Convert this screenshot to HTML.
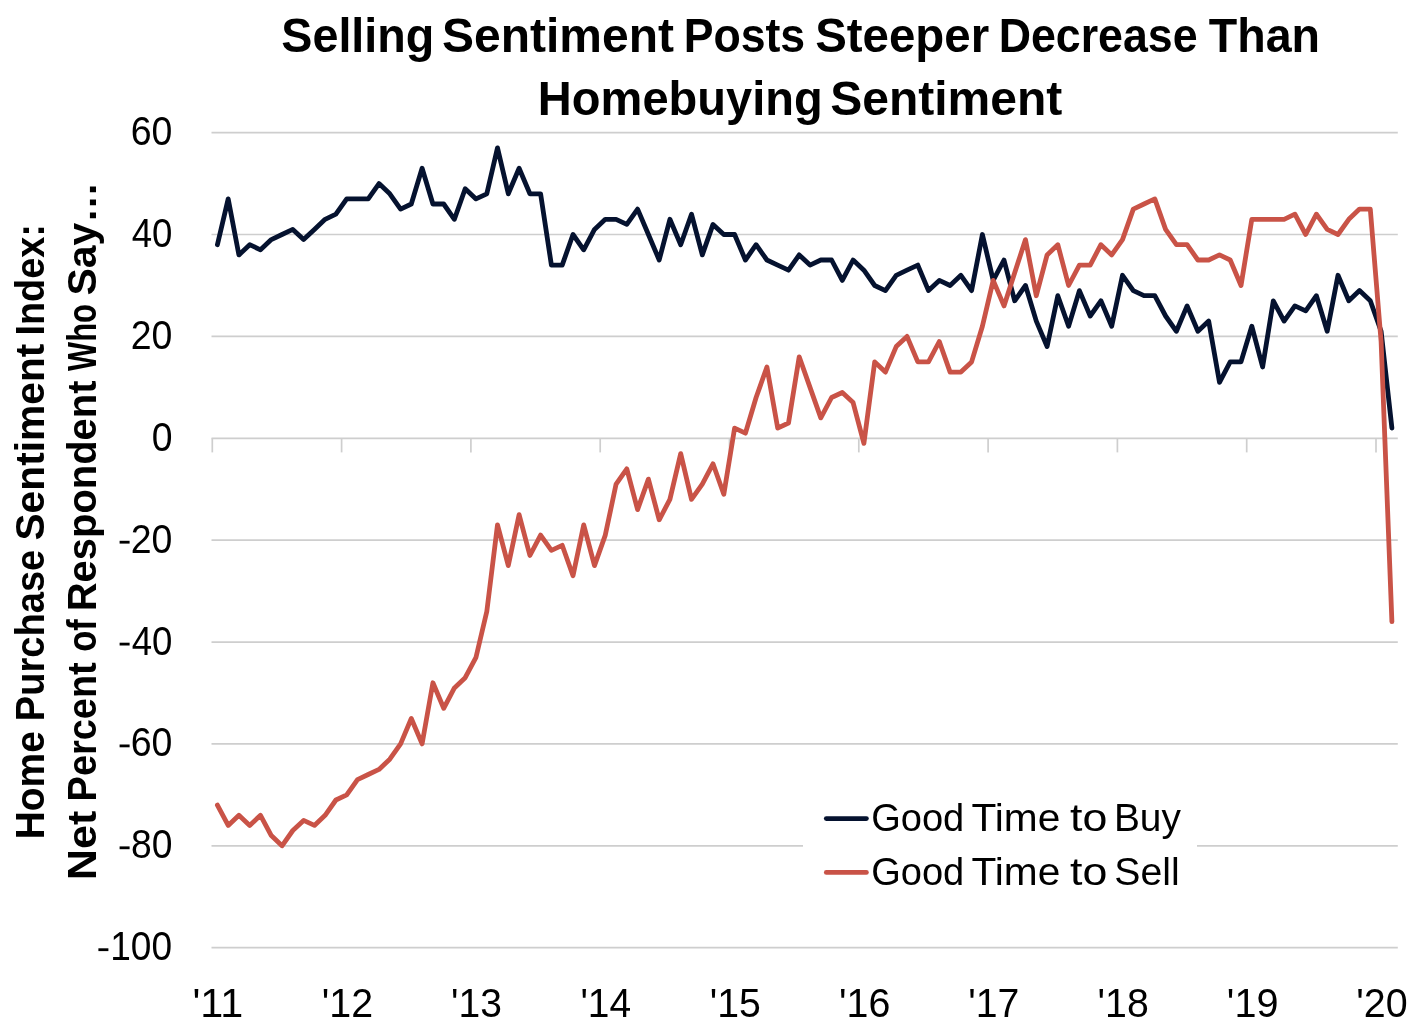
<!DOCTYPE html><html><head><meta charset="utf-8"><title>Selling Sentiment Posts Steeper Decrease Than Homebuying Sentiment</title>
<style>html,body{margin:0;padding:0;background:#fff}body{width:1421px;height:1031px;overflow:hidden}svg{display:block;will-change:transform}text{font-family:"Liberation Sans",sans-serif;fill:#000}</style></head><body>
<svg width="1421" height="1031" viewBox="0 0 1421 1031">
<rect width="1421" height="1031" fill="#fff"/>
<line x1="211.5" x2="1397.8" y1="132.7" y2="132.7" stroke="#cecece" stroke-width="1.7"/>
<line x1="211.5" x2="1397.8" y1="234.5" y2="234.5" stroke="#cecece" stroke-width="1.7"/>
<line x1="211.5" x2="1397.8" y1="336.4" y2="336.4" stroke="#cecece" stroke-width="1.7"/>
<line x1="211.5" x2="1397.8" y1="438.3" y2="438.3" stroke="#cecece" stroke-width="1.7"/>
<line x1="211.5" x2="1397.8" y1="540.2" y2="540.2" stroke="#cecece" stroke-width="1.7"/>
<line x1="211.5" x2="1397.8" y1="642.1" y2="642.1" stroke="#cecece" stroke-width="1.7"/>
<line x1="211.5" x2="1397.8" y1="743.9" y2="743.9" stroke="#cecece" stroke-width="1.7"/>
<line x1="211.5" x2="1397.8" y1="845.8" y2="845.8" stroke="#cecece" stroke-width="1.7"/>
<line x1="211.5" x2="1397.8" y1="947.7" y2="947.7" stroke="#cecece" stroke-width="1.7"/>
<line x1="212.3" x2="212.3" y1="438.3" y2="452.4" stroke="#cecece" stroke-width="1.7"/>
<line x1="341.6" x2="341.6" y1="438.3" y2="452.4" stroke="#cecece" stroke-width="1.7"/>
<line x1="470.9" x2="470.9" y1="438.3" y2="452.4" stroke="#cecece" stroke-width="1.7"/>
<line x1="600.2" x2="600.2" y1="438.3" y2="452.4" stroke="#cecece" stroke-width="1.7"/>
<line x1="729.5" x2="729.5" y1="438.3" y2="452.4" stroke="#cecece" stroke-width="1.7"/>
<line x1="858.8" x2="858.8" y1="438.3" y2="452.4" stroke="#cecece" stroke-width="1.7"/>
<line x1="988.1" x2="988.1" y1="438.3" y2="452.4" stroke="#cecece" stroke-width="1.7"/>
<line x1="1117.4" x2="1117.4" y1="438.3" y2="452.4" stroke="#cecece" stroke-width="1.7"/>
<line x1="1246.7" x2="1246.7" y1="438.3" y2="452.4" stroke="#cecece" stroke-width="1.7"/>
<line x1="1376.0" x2="1376.0" y1="438.3" y2="452.4" stroke="#cecece" stroke-width="1.7"/>
<rect x="803" y="795" width="394" height="100" fill="#fff"/>
<path d="M217.4 244.7 L228.2 198.9 L238.9 254.9 L249.7 244.7 L260.5 249.8 L271.3 239.6 L282.0 234.5 L292.8 229.4 L303.6 239.6 L314.4 229.4 L325.1 219.3 L335.9 214.2 L346.7 198.9 L357.5 198.9 L368.2 198.9 L379.0 183.6 L389.8 193.8 L400.6 209.1 L411.3 204.0 L422.1 168.3 L432.9 204.0 L443.7 204.0 L454.4 219.3 L465.2 188.7 L476.0 198.9 L486.8 193.8 L497.5 147.9 L508.3 193.8 L519.1 168.3 L529.9 193.8 L540.6 193.8 L551.4 265.1 L562.2 265.1 L573.0 234.5 L583.7 249.8 L594.5 229.4 L605.3 219.3 L616.1 219.3 L626.8 224.4 L637.6 209.1 L648.4 234.5 L659.2 260.0 L669.9 219.3 L680.7 244.7 L691.5 214.2 L702.3 254.9 L713.0 224.4 L723.8 234.5 L734.6 234.5 L745.4 260.0 L756.1 244.7 L766.9 260.0 L777.7 265.1 L788.5 270.2 L799.2 254.9 L810.0 265.1 L820.8 260.0 L831.6 260.0 L842.3 280.4 L853.1 260.0 L863.9 270.2 L874.7 285.5 L885.4 290.6 L896.2 275.3 L907.0 270.2 L917.8 265.1 L928.5 290.6 L939.3 280.4 L950.1 285.5 L960.9 275.3 L971.6 290.6 L982.4 234.5 L993.2 280.4 L1004.0 260.0 L1014.7 300.8 L1025.5 285.5 L1036.3 321.1 L1047.1 346.6 L1057.8 295.7 L1068.6 326.2 L1079.4 290.6 L1090.2 316.0 L1100.9 300.8 L1111.7 326.2 L1122.5 275.3 L1133.3 290.6 L1144.0 295.7 L1154.8 295.7 L1165.6 316.0 L1176.4 331.3 L1187.1 305.9 L1197.9 331.3 L1208.7 321.1 L1219.5 382.3 L1230.2 361.9 L1241.0 361.9 L1251.8 326.2 L1262.6 367.0 L1273.3 300.8 L1284.1 321.1 L1294.9 305.9 L1305.7 310.9 L1316.4 295.7 L1327.2 331.3 L1338.0 275.3 L1348.8 300.8 L1359.5 290.6 L1370.3 300.8 L1381.1 331.3 L1391.9 428.1" fill="none" stroke="#05122f" stroke-width="4.8" stroke-linejoin="round" stroke-linecap="round"/>
<path d="M217.4 805.1 L228.2 825.4 L238.9 815.3 L249.7 825.4 L260.5 815.3 L271.3 835.6 L282.0 845.8 L292.8 830.5 L303.6 820.4 L314.4 825.4 L325.1 815.3 L335.9 800.0 L346.7 794.9 L357.5 779.6 L368.2 774.5 L379.0 769.4 L389.8 759.2 L400.6 743.9 L411.3 718.5 L422.1 743.9 L432.9 682.8 L443.7 708.3 L454.4 687.9 L465.2 677.7 L476.0 657.3 L486.8 611.5 L497.5 524.9 L508.3 565.6 L519.1 514.7 L529.9 555.5 L540.6 535.1 L551.4 550.4 L562.2 545.3 L573.0 575.8 L583.7 524.9 L594.5 565.6 L605.3 535.1 L616.1 484.1 L626.8 468.9 L637.6 509.6 L648.4 479.1 L659.2 519.8 L669.9 499.4 L680.7 453.6 L691.5 499.4 L702.3 484.1 L713.0 463.8 L723.8 494.3 L734.6 428.1 L745.4 433.2 L756.1 397.5 L766.9 367.0 L777.7 428.1 L788.5 423.0 L799.2 356.8 L810.0 387.4 L820.8 417.9 L831.6 397.5 L842.3 392.5 L853.1 402.6 L863.9 443.4 L874.7 361.9 L885.4 372.1 L896.2 346.6 L907.0 336.4 L917.8 361.9 L928.5 361.9 L939.3 341.5 L950.1 372.1 L960.9 372.1 L971.6 361.9 L982.4 326.2 L993.2 280.4 L1004.0 305.9 L1014.7 272.7 L1025.5 239.6 L1036.3 295.7 L1047.1 254.9 L1057.8 244.7 L1068.6 285.5 L1079.4 265.1 L1090.2 265.1 L1100.9 244.7 L1111.7 254.9 L1122.5 239.6 L1133.3 209.1 L1144.0 204.0 L1154.8 198.9 L1165.6 229.4 L1176.4 244.7 L1187.1 244.7 L1197.9 260.0 L1208.7 260.0 L1219.5 254.9 L1230.2 260.0 L1241.0 285.5 L1251.8 219.3 L1262.6 219.3 L1273.3 219.3 L1284.1 219.3 L1294.9 214.2 L1305.7 234.5 L1316.4 214.2 L1327.2 229.4 L1338.0 234.5 L1348.8 219.3 L1359.5 209.1 L1370.3 209.1 L1381.1 341.5 L1391.9 621.7" fill="none" stroke="#c95347" stroke-width="4.8" stroke-linejoin="round" stroke-linecap="round"/>
<line x1="826.3" x2="866.4" y1="818.6" y2="818.6" stroke="#05122f" stroke-width="4.8" stroke-linecap="round"/>
<line x1="826.3" x2="866.4" y1="872.4" y2="872.4" stroke="#c95347" stroke-width="4.8" stroke-linecap="round"/>
<text transform="translate(281.32 52.00) scale(0.9867 1)" font-size="47.3" font-weight="bold">Selling</text>
<text transform="translate(442.08 52.00) scale(1.0146 1)" font-size="47.3" font-weight="bold">Sentiment</text>
<text transform="translate(683.63 52.00) scale(0.9433 1)" font-size="47.3" font-weight="bold">Posts</text>
<text transform="translate(815.20 52.00) scale(1.0026 1)" font-size="47.3" font-weight="bold">Steeper</text>
<text transform="translate(998.73 52.00) scale(0.9450 1)" font-size="47.3" font-weight="bold">Decrease</text>
<text transform="translate(1208.71 52.00) scale(0.9854 1)" font-size="47.3" font-weight="bold">Than</text>
<text transform="translate(537.87 115.10) scale(0.9946 1)" font-size="47.3" font-weight="bold">Homebuying</text>
<text transform="translate(830.18 115.10) scale(1.0155 1)" font-size="47.3" font-weight="bold">Sentiment</text>
<text transform="translate(871.25 830.70) scale(0.9752 1)" font-size="39.0">Good</text>
<text transform="translate(971.46 830.70) scale(1.0436 1)" font-size="39.0">Time</text>
<text transform="translate(1070.03 830.70) scale(1.1471 1)" font-size="39.0">to</text>
<text transform="translate(1113.96 830.70) scale(0.9961 1)" font-size="39.0">Buy</text>
<text transform="translate(871.25 884.60) scale(0.9752 1)" font-size="39.0">Good</text>
<text transform="translate(971.46 884.60) scale(1.0436 1)" font-size="39.0">Time</text>
<text transform="translate(1070.03 884.60) scale(1.1471 1)" font-size="39.0">to</text>
<text transform="translate(1114.24 884.60) scale(1.0058 1)" font-size="39.0">Sell</text>
<text transform="translate(44.30 839.19) rotate(-90) scale(0.9765 1)" font-size="39.8" font-weight="bold">Home</text>
<text transform="translate(44.30 721.13) rotate(-90) scale(0.9571 1)" font-size="39.8" font-weight="bold">Purchase</text>
<text transform="translate(44.30 540.58) rotate(-90) scale(1.0239 1)" font-size="39.8" font-weight="bold">Sentiment</text>
<text transform="translate(44.30 335.62) rotate(-90) scale(0.9511 1)" font-size="39.8" font-weight="bold">Index:</text>
<text transform="translate(96.40 880.18) rotate(-90) scale(1.0852 1)" font-size="39.8" font-weight="bold">Net</text>
<text transform="translate(96.40 801.42) rotate(-90) scale(0.9534 1)" font-size="39.8" font-weight="bold">Percent</text>
<text transform="translate(96.40 651.80) rotate(-90) scale(0.8690 1)" font-size="39.8" font-weight="bold">of</text>
<text transform="translate(96.40 611.26) rotate(-90) scale(1.0037 1)" font-size="39.8" font-weight="bold">Respondent</text>
<text transform="translate(96.40 370.90) rotate(-90) scale(0.7763 1)" font-size="39.8" font-weight="bold">Who</text>
<text transform="translate(96.40 295.59) rotate(-90) scale(1.0301 1)" font-size="39.8" font-weight="bold">Say…</text>
<text transform="translate(130.77 145.10) scale(0.9143 1)" font-size="41.0">60</text>
<text transform="translate(131.71 247.00) scale(0.8930 1)" font-size="41.0">40</text>
<text transform="translate(130.77 348.80) scale(0.9143 1)" font-size="41.0">20</text>
<text transform="translate(151.63 450.70) scale(0.9114 1)" font-size="41.0">0</text>
<text transform="translate(130.77 552.60) scale(0.9143 1)" font-size="41.0">20</text>
<text transform="translate(131.71 654.50) scale(0.8930 1)" font-size="41.0">40</text>
<text transform="translate(130.77 756.30) scale(0.9143 1)" font-size="41.0">60</text>
<text transform="translate(131.01 858.20) scale(0.9089 1)" font-size="41.0">80</text>
<text transform="translate(110.26 960.10) scale(0.9039 1)" font-size="41.0">100</text>
<text transform="translate(192.38 1016.70) scale(1.0076 1)" font-size="41.0">&#39;11</text>
<text transform="translate(321.78 1016.70) scale(0.9604 1)" font-size="41.0">&#39;12</text>
<text transform="translate(451.10 1016.70) scale(0.9515 1)" font-size="41.0">&#39;13</text>
<text transform="translate(580.40 1016.70) scale(0.9493 1)" font-size="41.0">&#39;14</text>
<text transform="translate(709.69 1016.70) scale(0.9568 1)" font-size="41.0">&#39;15</text>
<text transform="translate(838.98 1016.70) scale(0.9596 1)" font-size="41.0">&#39;16</text>
<text transform="translate(968.29 1016.70) scale(0.9563 1)" font-size="41.0">&#39;17</text>
<text transform="translate(1097.58 1016.70) scale(0.9588 1)" font-size="41.0">&#39;18</text>
<text transform="translate(1226.87 1016.70) scale(0.9657 1)" font-size="41.0">&#39;19</text>
<text transform="translate(1356.17 1016.70) scale(0.9628 1)" font-size="41.0">&#39;20</text>
<rect x="119.6" y="540.8" width="10.0" height="2.8" fill="#000"/>
<rect x="119.6" y="642.7" width="10.0" height="2.8" fill="#000"/>
<rect x="119.6" y="744.5" width="10.0" height="2.8" fill="#000"/>
<rect x="119.6" y="846.4" width="10.0" height="2.8" fill="#000"/>
<rect x="98.4" y="948.3" width="10.0" height="2.8" fill="#000"/>
</svg></body></html>
